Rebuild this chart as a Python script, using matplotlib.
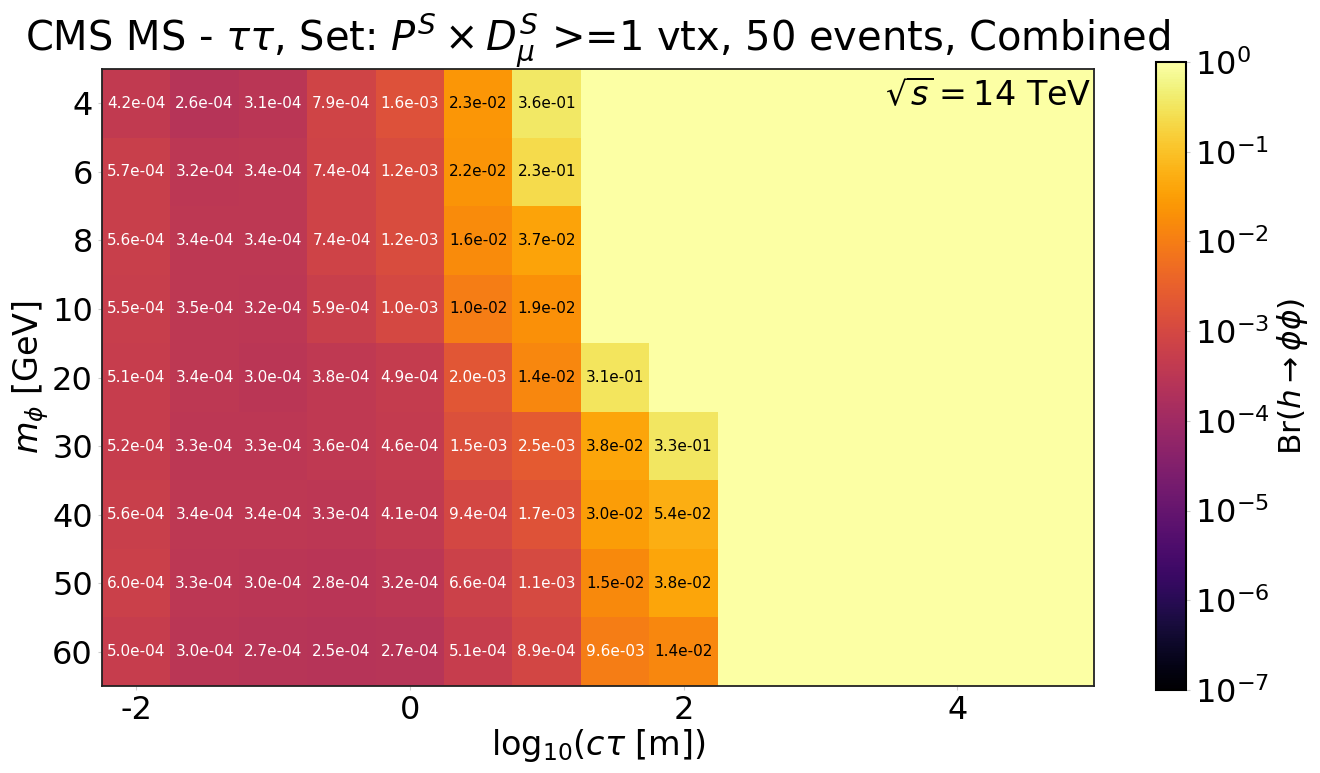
import numpy as np
import matplotlib
matplotlib.use("Agg")
import matplotlib.pyplot as plt
from matplotlib.colors import LogNorm

# log10(c tau [m]) bin centres and m_phi rows (top to bottom)
log_ctau = [-2.0, -1.5, -1.0, -0.5, 0.0, 0.5, 1.0, 1.5, 2.0, 2.5, 3.0, 3.5, 4.0, 4.5, 5.0]
masses = [4, 6, 8, 10, 20, 30, 40, 50, 60]

# Br(h -> phi phi) limits; the remaining bins of each row are not excluded (>= 1)
br_m4 = [4.2e-4, 2.6e-4, 3.1e-4, 7.9e-4, 1.6e-3, 2.3e-2, 3.6e-1]
br_m6 = [5.7e-4, 3.2e-4, 3.4e-4, 7.4e-4, 1.2e-3, 2.2e-2, 2.3e-1]
br_m8 = [5.6e-4, 3.4e-4, 3.4e-4, 7.4e-4, 1.2e-3, 1.6e-2, 3.7e-2]
br_m10 = [5.5e-4, 3.5e-4, 3.2e-4, 5.9e-4, 1.0e-3, 1.0e-2, 1.9e-2]
br_m20 = [5.1e-4, 3.4e-4, 3.0e-4, 3.8e-4, 4.9e-4, 2.0e-3, 1.4e-2, 3.1e-1]
br_m30 = [5.2e-4, 3.3e-4, 3.3e-4, 3.6e-4, 4.6e-4, 1.5e-3, 2.5e-3, 3.8e-2, 3.3e-1]
br_m40 = [5.6e-4, 3.4e-4, 3.4e-4, 3.3e-4, 4.1e-4, 9.4e-4, 1.7e-3, 3.0e-2, 5.4e-2]
br_m50 = [6.0e-4, 3.3e-4, 3.0e-4, 2.8e-4, 3.2e-4, 6.6e-4, 1.1e-3, 1.5e-2, 3.8e-2]
br_m60 = [5.0e-4, 3.0e-4, 2.7e-4, 2.5e-4, 2.7e-4, 5.1e-4, 8.9e-4, 9.6e-3, 1.4e-2]

rows = [br_m4, br_m6, br_m8, br_m10, br_m20, br_m30, br_m40, br_m50, br_m60]

ncol = len(log_ctau)
Z = np.ones((len(masses), ncol))
for i, r in enumerate(rows):
    Z[i, :len(r)] = r

step = 0.5
xedges = np.append(np.array(log_ctau) - step / 2, log_ctau[-1] + step / 2)
yedges = np.arange(len(masses) + 1) - 0.5

fig = plt.figure(figsize=(13.2, 7.73), dpi=100)
ax = fig.add_axes([102 / 1320, 1 - 686 / 773, (1094 - 102) / 1320, (686 - 69) / 773])
cax = fig.add_axes([1156 / 1320, 1 - 690 / 773, 30 / 1320, (690 - 62) / 773])

mesh = ax.pcolormesh(xedges, yedges, Z, cmap="inferno", norm=LogNorm(vmin=1e-7, vmax=1))

for i, r in enumerate(rows):
    for j, v in enumerate(r):
        ax.text(log_ctau[j], i, f"{v:.1e}", ha="center", va="center", fontsize=11,
                color="black" if v >= 1e-2 else "white")

ax.set_xlim(-2.25, 5.0)
ax.set_ylim(len(masses) - 0.5, -0.5)
ax.set_yticks(range(len(masses)))
ax.set_yticklabels([str(m) for m in masses])
ax.set_xticks([-2, 0, 2, 4])
ax.set_xticklabels(["-2", "0", "2", "4"])
ax.tick_params(labelsize=23, length=3, color="#cccccc")
for s in ax.spines.values():
    s.set_color("#222222")
    s.set_linewidth(1.3)

ax.set_xlabel(r"log$_{10}$($c\tau$ [m])", fontsize=24, labelpad=1)
ax.set_ylabel(r"$m_{\phi}$ [GeV]", fontsize=24, labelpad=1)
ax.set_title(r"CMS MS - $\tau\tau$, Set: $P^S\times D^S_\mu$ >=1 vtx, 50 events, Combined",
             fontsize=28.8, pad=6)
ax.text(0.997, 0.985, r"$\sqrt{s}=14$ TeV", transform=ax.transAxes, ha="right", va="top",
        fontsize=24)

cb = fig.colorbar(mesh, cax=cax)
cb.set_ticks([10.0 ** k for k in range(-7, 1)])
cb.ax.tick_params(labelsize=23, length=3, color="#cccccc")
cb.ax.minorticks_off()
cb.outline.set_linewidth(1.5)
cb.set_label(r"Br$(h\rightarrow\phi\phi)$", fontsize=22.5, labelpad=4)

fig.savefig("out.png", dpi=100)
plt.close(fig)
